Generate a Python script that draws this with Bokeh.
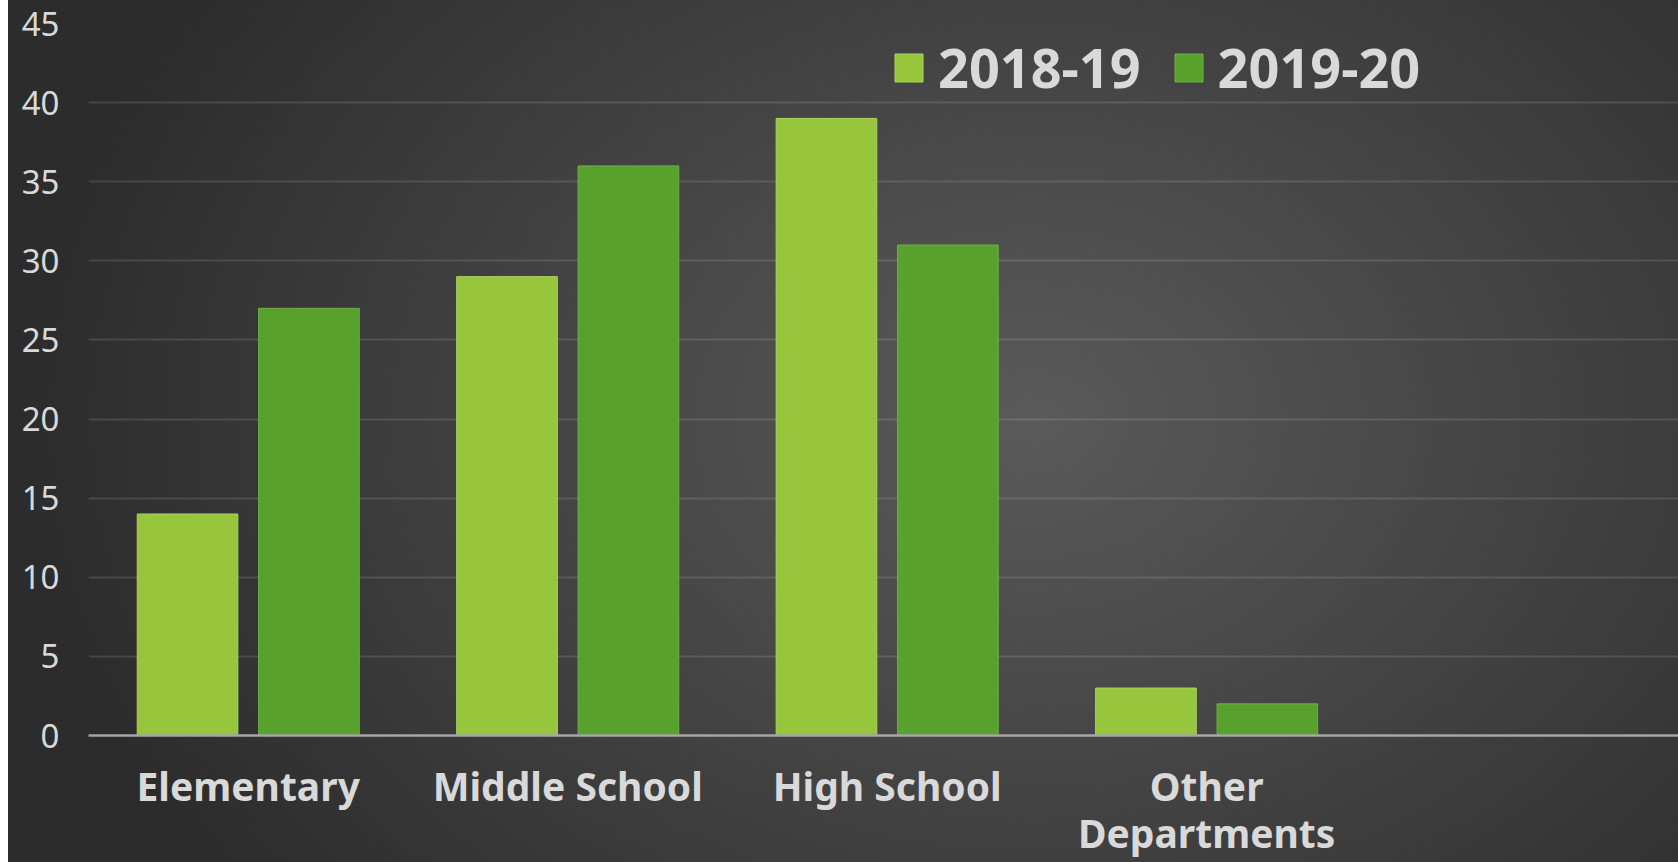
from bokeh.plotting import figure
from bokeh.models import Range1d, FixedTicker, ColumnDataSource, Legend, LegendItem
from bokeh.embed import file_html
from bokeh.resources import INLINE

categories = ["Elementary", "Middle School", "High School", "Other\nDepartments"]
series_names = ["2018-19", "2019-20"]
values_2018_19 = [14, 29, 39, 3]
values_2019_20 = [27, 36, 31, 2]
y_ticks = [0, 5, 10, 15, 20, 25, 30, 35, 40, 45]

FONT = "Noto Sans"
TXT = "#d9d9d9"

p = figure(width=1678, height=862, output_backend="svg", toolbar_location=None,
           x_range=Range1d(-0.5, 4.477), y_range=Range1d(0, 45),
           min_border_left=88, min_border_right=0, min_border_top=23, min_border_bottom=126)
p.styles = {"background": "linear-gradient(to right, #ffffff 0px, #ffffff 8px, transparent 8px), "
                          "radial-gradient(ellipse 1000px 760px at 1030px 420px, #5a5a5a 0%, #2c2c2c 100%)"}
p.background_fill_alpha = 0
p.border_fill_alpha = 0
p.outline_line_color = None

idx = list(range(len(categories)))
src = ColumnDataSource(dict(
    x1=[i - 0.19 for i in idx], x2=[i + 0.19 for i in idx],
    a=values_2018_19, b=values_2019_20))

r1 = p.vbar(x="x1", top="a", bottom=0, width=0.315, source=src,
            fill_color="#97c53c", line_color="#a8d660", line_width=1)
r2 = p.vbar(x="x2", top="b", bottom=0, width=0.315, source=src,
            fill_color="#59a12d", line_color="#6cb048", line_width=1)

# grid
p.xgrid.grid_line_color = None
p.ygrid.ticker = FixedTicker(ticks=y_ticks)
p.ygrid.grid_line_color = "#ffffff"
p.ygrid.grid_line_alpha = 0.12
p.ygrid.grid_line_width = 2

# y axis
p.yaxis.ticker = FixedTicker(ticks=y_ticks)
p.yaxis.axis_line_color = None
p.yaxis.major_tick_line_color = None
p.yaxis.minor_tick_line_color = None
p.yaxis.major_tick_out = 0
p.yaxis.major_label_standoff = 29
p.yaxis.major_label_text_font = FONT
p.yaxis.major_label_text_font_size = "33px"
p.yaxis.major_label_text_color = TXT

# x axis
p.xaxis.ticker = FixedTicker(ticks=idx)
p.xaxis.major_label_overrides = {i: c for i, c in zip(idx, categories)}
p.xaxis.axis_line_color = "#a6a6a6"
p.xaxis.axis_line_width = 2.5
p.xaxis.major_tick_line_color = None
p.xaxis.minor_tick_line_color = None
p.xaxis.major_tick_out = 0
p.xaxis.major_label_standoff = 23
p.xaxis.major_label_text_font = FONT
p.xaxis.major_label_text_font_style = "bold"
p.xaxis.major_label_text_font_size = "39px"
p.xaxis.major_label_text_color = TXT
p.xaxis.major_label_text_line_height = 0.9

legend = Legend(items=[LegendItem(label=series_names[0], renderers=[r1]),
                       LegendItem(label=series_names[1], renderers=[r2])],
                location=(803, 631), orientation="horizontal")
legend.background_fill_alpha = 0
legend.border_line_alpha = 0
legend.label_text_font = FONT
legend.label_text_font_size = "54px"
legend.label_text_font_style = "bold"
legend.label_text_color = TXT
legend.glyph_width = 35
legend.glyph_height = 35
legend.label_standoff = 12
legend.spacing = 30
legend.padding = 0
legend.margin = 0
p.add_layout(legend)

open("out.html", "w").write(file_html(p, INLINE))
